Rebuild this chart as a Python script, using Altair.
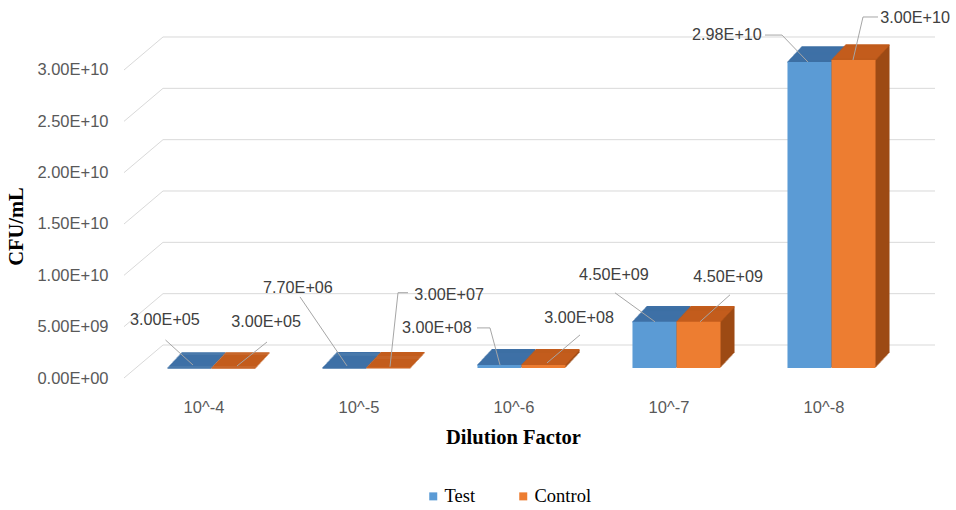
import json

import altair as alt
import pandas as pd

# ---- data -----------------------------------------------------------------
categories = ["10^-4", "10^-5", "10^-6", "10^-7", "10^-8"]
test_values = [3.00e5, 7.70e6, 3.00e8, 4.50e9, 2.98e10]
control_values = [3.00e5, 3.00e7, 3.00e8, 4.50e9, 3.00e10]
series_names = ["Test", "Control"]
y_ticks = [0, 5e9, 1e10, 1.5e10, 2e10, 2.5e10, 3e10]

rows = []
for i, cat in enumerate(categories):
    for name, vals in zip(series_names, [test_values, control_values]):
        rows.append({"cat": cat, "idx": i, "series": name,
                     "value": vals[i], "label": f"{vals[i]:.2E}"})
df = pd.DataFrame(rows)
grid_df = pd.DataFrame({"tick": y_ticks})
y_tick_labels = [f"{v:.2E}" for v in y_ticks]

# ---- styling --------------------------------------------------------------
FRONT = {"Test": "#5b9bd5", "Control": "#ed7d31"}
TOP = {"Test": "#3e70a6", "Control": "#c35c1c"}
SIDE = {"Test": "#35608f", "Control": "#9d4b15"}
GRID = "#d9d9d9"
LEADER = "#a6a6a6"
SANS = "Liberation Sans"
SERIF = "Liberation Serif"

W, H = 775, 363
BAR = 0.284          # bar width in category units
DEPTH = 14           # depth of the 3-D extrusion in pixels
DY = 15 / 14         # vertical rise per pixel of depth
WALL_DX, WALL_DY = 29, -23   # back wall offset from the front plane

xscale = alt.Scale(domain=[-0.5, 4.5], nice=False, zero=False)
yscale = alt.Scale(domain=[0, 3.5357e10], nice=False, zero=True)

x_axis = alt.Axis(
    values=[0, 1, 2, 3, 4], labelExpr=f"{json.dumps(categories)}[datum.value]",
    grid=False, ticks=False, domain=False,
    labelFont=SANS, labelFontSize=16.5, labelColor="#595959",
    labelPadding=31, labelOffset=-8,
    titleFont=SERIF, titleFontSize=20.5, titleFontWeight="bold",
    titleColor="#000000", titleX=379, titleY=69, titleBaseline="middle",
)
y_axis = alt.Axis(
    values=y_ticks,
    labelExpr=f"{json.dumps(y_tick_labels)}[round(datum.value / 5e9)]",
    grid=False, ticks=False, domain=False,
    labelFont=SANS, labelFontSize=16.5, labelColor="#595959",
    labelPadding=26, labelOffset=10,
    titleFont=SERIF, titleFontSize=20.5, titleFontWeight="bold",
    titleColor="#000000", titleX=-118, titleY=221,
    titleAngle=-90, titleAlign="center", titleBaseline="middle",
)
X_TITLE = "Dilution Factor"
Y_TITLE = "CFU/mL"

base = alt.Chart(df).transform_calculate(
    x0=f"datum.idx - {BAR} + (datum.series == 'Control' ? {BAR} : 0)"
).transform_calculate(
    x1=f"datum.x0 + {BAR}", xc=f"datum.x0 + {BAR / 2}"
)

def xq(field):
    return alt.X(f"{field}:Q", scale=xscale, axis=x_axis, title=X_TITLE)

def yq(field="value"):
    return alt.Y(f"{field}:Q", scale=yscale, axis=y_axis, title=Y_TITLE)

layers = []

# floor-to-wall slants and back-wall gridlines
layers.append(
    alt.Chart(grid_df).mark_rule(color=GRID, strokeWidth=1, yOffset=10, y2Offset=WALL_DY)
    .encode(y=yq("tick"), y2="tick:Q", x=alt.value(-10), x2=alt.value(WALL_DX))
)
layers.append(
    alt.Chart(grid_df).mark_rule(color=GRID, strokeWidth=1, yOffset=WALL_DY)
    .encode(y=yq("tick"), x=alt.value(WALL_DX), x2=alt.value(W + 26))
)

# extruded 3-D boxes: side faces then top faces, Test first so Control overlaps it
for name in series_names:
    s = base.transform_filter(f"datum.series == '{name}'")
    for k in range(DEPTH, 0, -1):
        layers.append(
            s.mark_bar(color=SIDE[name], strokeWidth=0,
                       xOffset=k, x2Offset=k, yOffset=-k * DY, y2Offset=-k * DY)
            .encode(x=xq("x0"), x2="x1:Q", y=yq(), y2=alt.datum(0))
        )
    for k in range(DEPTH, -1, -1):
        layers.append(
            s.mark_rule(color=TOP[name], strokeWidth=1.6,
                        xOffset=k, x2Offset=k, yOffset=-k * DY)
            .encode(x=xq("x0"), x2="x1:Q", y=yq())
        )

# front faces, carrying the legend
layers.append(
    base.mark_bar(strokeWidth=0).encode(
        x=xq("x0"), x2="x1:Q", y=yq(), y2=alt.datum(0),
        color=alt.Color("series:N",
                        scale=alt.Scale(domain=series_names,
                                        range=[FRONT[n] for n in series_names]),
                        legend=alt.Legend(title=None, orient="none", direction="horizontal",
                                          legendX=290, legendY=482,
                                          symbolType="square", symbolSize=64,
                                          symbolStrokeWidth=0, labelFont=SERIF,
                                          labelFontSize=18.5, labelColor="#000000",
                                          labelOffset=2, columnPadding=38)),
    )
)

# data labels with leader lines: text offset and leader segments (pixels from bar top)
label_layout = {
    ("Test", 0): (-24.5, -48, [(-24, -28, 3.5, -3)]),
    ("Control", 0): (32.5, -46, [(33.5, -26, 3.5, -2)]),
    ("Test", 1): (-46.5, -80, [(-44.5, -71, 2.5, -2)]),
    ("Control", 1): (60.5, -73, [(19.5, -75, 9.5, -75), (9.5, -75, 1.5, -1)]),
    ("Test", 2): (-62.5, -37, [(-22.5, -37, -9.5, -37), (-9.5, -37, 0.5, 0)]),
    ("Control", 2): (35.5, -47, [(36.5, -30, 3.5, -2)]),
    ("Test", 3): (-40.5, -47, [(-39.5, -29, 0.5, 0)]),
    ("Control", 3): (29.5, -45, [(31.5, -27, 1.5, 0)]),
    ("Test", 4): (-82.5, -27, [(-44.5, -27, -27.5, -27), (-27.5, -27, -1.5, 0)]),
    ("Control", 4): (61.5, -42, [(24.5, -43, 9.5, -43), (9.5, -43, -0.5, 0)]),
}
for (name, i), (dx, dy, segments) in label_layout.items():
    one = base.transform_filter(f"datum.series == '{name}' && datum.idx == {i}")
    for (ax, ay, bx, by) in segments:
        layers.append(
            one.mark_rule(color=LEADER, strokeWidth=1,
                          xOffset=ax, yOffset=ay, x2Offset=bx, y2Offset=by)
            .encode(x=xq("xc"), x2="xc:Q", y=yq(), y2="value:Q")
        )
    layers.append(
        one.mark_text(font=SANS, fontSize=16.2, color="#404040",
                      align="center", baseline="middle", dx=dx, dy=dy)
        .encode(x=xq("xc"), y=yq(), text="label:N")
    )

chart = alt.layer(*layers).properties(
    width=W, height=H,
    autosize=alt.AutoSizeParams(type="none"),
    padding={"left": 134, "top": 5, "right": 956 - 134 - W, "bottom": 510 - 5 - H},
).configure_view(stroke=None)

chart.save("out.html", embed_options={"renderer": "svg", "actions": False})
